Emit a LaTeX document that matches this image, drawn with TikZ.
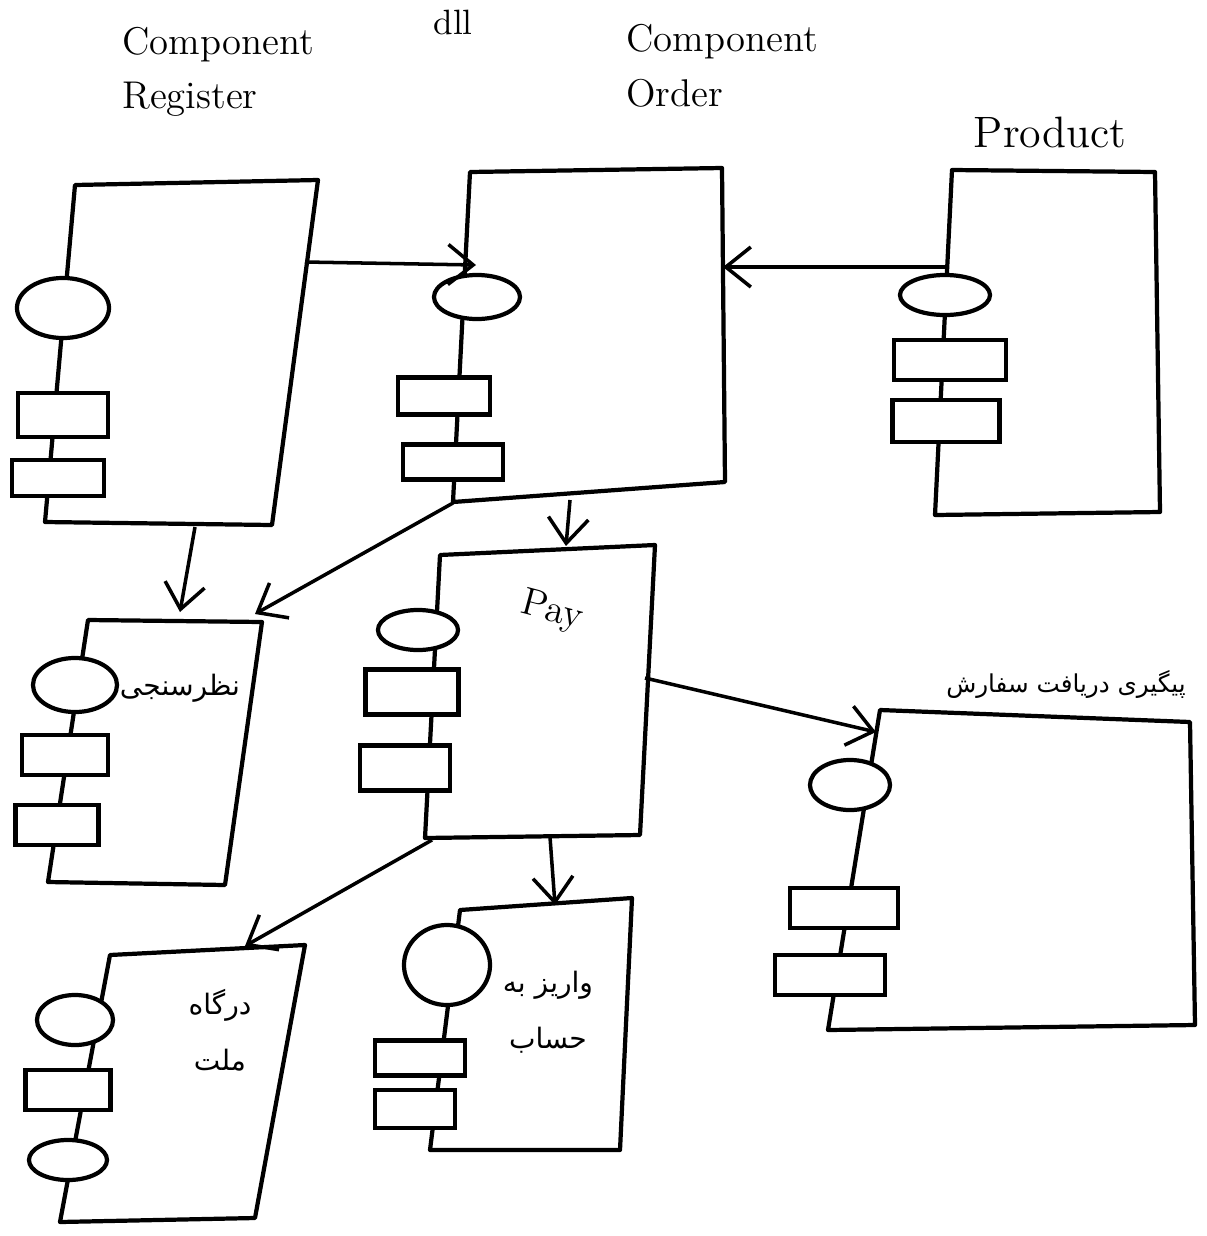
\documentclass[tikz,border=0pt]{standalone}
\usepackage{fontspec}
\usepackage{tikz}
\usetikzlibrary{arrows.meta}
\usetikzlibrary{shapes.geometric}
\newfontfamily\farsi[Script=Arabic]{DejaVu Sans}
\TeXXeTstate=1
\tikzset{
  comp/.style={line width=1.2pt, line join=round},
  iface/.style={draw, ellipse, fill=white, line width=1.2pt, inner sep=0pt},
  port/.style={draw, rectangle, fill=white, line width=1.2pt, inner sep=0pt},
  dep/.style={line width=1pt, -{Straight Barb[length=2.5mm, width=4mm]}},
  title/.style={font=\fontsize{11}{15.5}\selectfont, align=left, inner sep=0pt},
  falabel/.style={font=\farsi\fontsize{8}{16}\selectfont, align=center, inner sep=0pt},
}
\begin{document}
\begin{tikzpicture}[x=0.01cm, y=-0.01cm]
\useasboundingbox (0,0) rectangle (1207,1236);
% titles
\node[title] (tReg) at (218,72) {Component\\Register};
\node[font=\fontsize{10}{12}\selectfont] (tDll) at (453,22) {dll};
\node[title] (tOrd) at (722,66) {Component\\Order};
\node[font=\fontsize{12.5}{14}\selectfont] (tProd) at (1050,132) {Product};
% component register
\coordinate (R1) at (75,185); \coordinate (R2) at (318,180);
\coordinate (R3) at (272,525); \coordinate (R4) at (45,522);
\draw[comp] (R1) -- (R2) -- (R3) -- (R4) -- cycle;
\node[iface, minimum width=0.92cm, minimum height=0.6cm] (Ri) at (63,308) {};
\node[port, minimum width=0.9cm, minimum height=0.44cm] (Rp1) at (63,415) {};
\node[port, minimum width=0.92cm, minimum height=0.36cm] (Rp2) at (58,478) {};
% component order
\coordinate (O1) at (470,172); \coordinate (O2) at (722,168);
\coordinate (O3) at (725,482); \coordinate (O4) at (453,502);
\draw[comp] (O1) -- (O2) -- (O3) -- (O4) -- cycle;
\node[iface, minimum width=0.86cm, minimum height=0.44cm] (Oi) at (477,297) {};
\node[port, minimum width=0.92cm, minimum height=0.37cm] (Op1) at (444,396) {};
\node[port, minimum width=1cm, minimum height=0.35cm] (Op2) at (453,462) {};
% product
\coordinate (P1) at (952,170); \coordinate (P2) at (1155,172);
\coordinate (P3) at (1160,512); \coordinate (P4) at (935,515);
\draw[comp] (P1) -- (P2) -- (P3) -- (P4) -- cycle;
\node[iface, minimum width=0.9cm, minimum height=0.4cm] (Pi) at (945,295) {};
\node[port, minimum width=1.12cm, minimum height=0.4cm] (Pp1) at (950,360) {};
\node[port, minimum width=1.07cm, minimum height=0.42cm] (Pp2) at (946,421) {};
% survey
\coordinate (S1) at (88,620); \coordinate (S2) at (262,622);
\coordinate (S3) at (225,885); \coordinate (S4) at (48,882);
\draw[comp] (S1) -- (S2) -- (S3) -- (S4) -- cycle;
\node[iface, minimum width=0.84cm, minimum height=0.54cm] (Si) at (75,685) {};
\node[port, minimum width=0.86cm, minimum height=0.4cm] (Sp1) at (65,755) {};
\node[port, minimum width=0.83cm, minimum height=0.4cm] (Sp2) at (57,825) {};
\node[falabel] (lSurvey) at (180,688) {\beginR نظرسنجی\endR};
% pay
\coordinate (Y1) at (440,555); \coordinate (Y2) at (655,545);
\coordinate (Y3) at (640,835); \coordinate (Y4) at (425,838);
\draw[comp] (Y1) -- (Y2) -- (Y3) -- (Y4) -- cycle;
\node[iface, minimum width=0.8cm, minimum height=0.4cm] (Yi) at (418,630) {};
\node[port, minimum width=0.93cm, minimum height=0.45cm] (Yp1) at (412,692) {};
\node[port, minimum width=0.9cm, minimum height=0.45cm] (Yp2) at (405,768) {};
\node[font=\fontsize{11}{13}\selectfont, rotate=-15] (lPay) at (552,612) {Pay};
% order tracking
\coordinate (T1) at (880,710); \coordinate (T2) at (1190,722);
\coordinate (T3) at (1195,1025); \coordinate (T4) at (828,1030);
\draw[comp] (T1) -- (T2) -- (T3) -- (T4) -- cycle;
\node[iface, minimum width=0.8cm, minimum height=0.5cm] (Ti) at (850,785) {};
\node[port, minimum width=1.08cm, minimum height=0.4cm] (Tp1) at (844,908) {};
\node[port, minimum width=1.1cm, minimum height=0.4cm] (Tp2) at (830,975) {};
\node[falabel, font=\farsi\fontsize{7}{14}\selectfont] (lTrack) at (1066,684) {\beginR پیگیری دریافت سفارش\endR};
% mellat gateway
\coordinate (M1) at (110,955); \coordinate (M2) at (305,945);
\coordinate (M3) at (255,1218); \coordinate (M4) at (60,1222);
\draw[comp] (M1) -- (M2) -- (M3) -- (M4) -- cycle;
\node[iface, minimum width=0.76cm, minimum height=0.5cm] (Mi1) at (75,1020) {};
\node[port, minimum width=0.85cm, minimum height=0.4cm] (Mp1) at (68,1090) {};
\node[iface, minimum width=0.78cm, minimum height=0.4cm] (Mi2) at (68,1160) {};
\node[falabel] (lMellat) at (220,1030) {\beginR درگاه\endR\\\beginR ملت\endR};
% deposit
\coordinate (D1) at (460,910); \coordinate (D2) at (632,898);
\coordinate (D3) at (620,1150); \coordinate (D4) at (430,1150);
\draw[comp] (D1) -- (D2) -- (D3) -- (D4) -- cycle;
\node[iface, minimum width=0.86cm, minimum height=0.8cm] (Di) at (447,965) {};
\node[port, minimum width=0.9cm, minimum height=0.35cm] (Dp1) at (420,1058) {};
\node[port, minimum width=0.8cm, minimum height=0.38cm] (Dp2) at (415,1109) {};
\node[falabel] (lDeposit) at (548,1012) {\beginR واریز به\endR\\\beginR حساب\endR};
% dependencies
\coordinate (RtoO) at (305,262); \coordinate (OfromR) at (476,265);
\coordinate (PtoO) at (948,267); \coordinate (OfromP) at (723,267);
\coordinate (RtoS) at (195,527); \coordinate (SfromR) at (180,612);
\coordinate (OtoS) at (453,503); \coordinate (SfromO) at (255,614);
\coordinate (OtoY) at (570,500); \coordinate (YfromO) at (566,546);
\coordinate (YtoT) at (645,678); \coordinate (TfromY) at (876,732);
\coordinate (YtoM) at (432,840); \coordinate (MfromY) at (245,946);
\coordinate (YtoD) at (550,837); \coordinate (DfromY) at (555,905);
\draw[dep] (RtoO) -- (OfromR);
\draw[dep] (PtoO) -- (OfromP);
\draw[dep] (RtoS) -- (SfromR);
\draw[dep] (OtoS) -- (SfromO);
\draw[dep] (OtoY) -- (YfromO);
\draw[dep] (YtoT) -- (TfromY);
\draw[dep] (YtoM) -- (MfromY);
\draw[dep] (YtoD) -- (DfromY);
\end{tikzpicture}
\end{document}
